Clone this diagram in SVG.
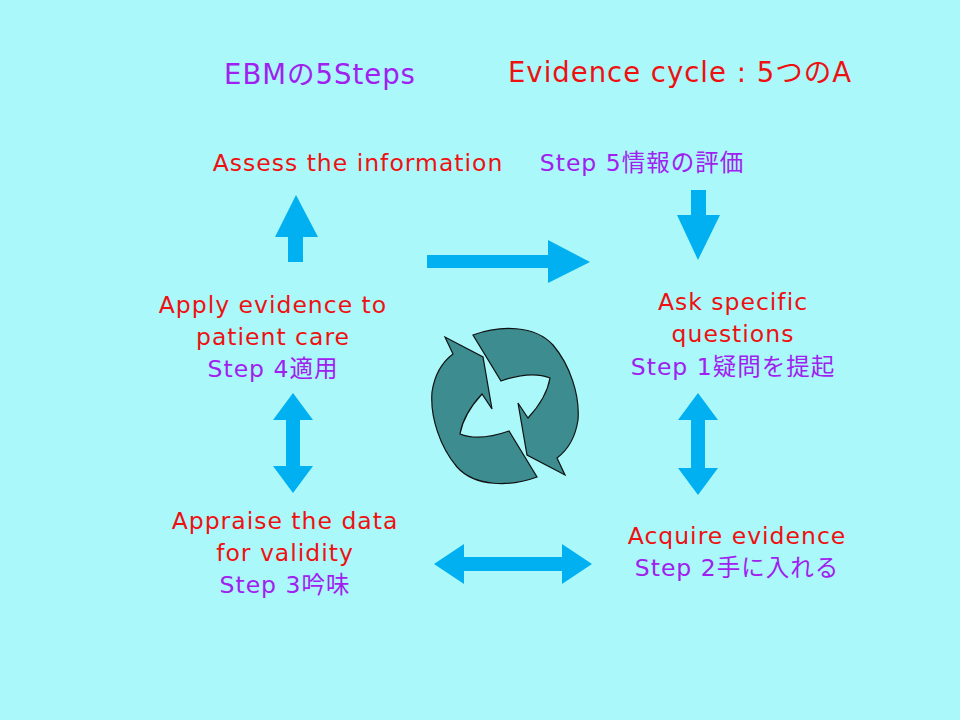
<svg xmlns="http://www.w3.org/2000/svg" xmlns:xlink="http://www.w3.org/1999/xlink" width="960" height="720" viewBox="0 0 960 720">
<style>
text{font-family:"DejaVu Sans","Noto Sans CJK JP",sans-serif;font-size:23.5px;letter-spacing:1px;text-anchor:middle}
.r{fill:#EE1111}.p{fill:#A020F0}
.a{fill:#00B0F0}
.c{fill:#3C8C90;stroke:#111;stroke-width:1.2}
</style>
<defs>
<path id="pc" class="c" d="M473,335 C500,325 535,325 553,345 C570,365 580,395 578,420 C575,440 565,452 557,458 L565,475 L527,455 L518,403 L528,418 C540,405 548,390 550,378 C535,372 518,375 501,381 Z"/>
</defs>
<rect width="960" height="720" fill="#AAF8FA"/>
<g id="titles">
<text x="320" y="84" class="p" style="font-size:27.5px">EBMの5Steps</text>
<text x="680" y="82" class="r" style="font-size:27.5px">Evidence cycle : 5つのA</text>
</g>
<g id="assess"><text x="358" y="171" class="r">Assess the information</text></g>
<g id="step5"><text x="642" y="171" class="p">Step 5情報の評価</text></g>
<g id="ask"><text x="733" y="310" class="r">Ask specific</text><text x="733" y="342" class="r">questions</text><text x="733" y="375" class="p">Step 1疑問を提起</text></g>
<g id="apply"><text x="273" y="313" class="r">Apply evidence to</text><text x="273" y="345" class="r">patient care</text><text x="273" y="377" class="p">Step 4適用</text></g>
<g id="appraise"><text x="285" y="529" class="r">Appraise the data</text><text x="285" y="561" class="r">for validity</text><text x="285" y="593" class="p">Step 3吟味</text></g>
<g id="acquire"><text x="737" y="544" class="r">Acquire evidence</text><text x="737" y="576" class="p">Step 2手に入れる</text></g>
<g id="cycle"><use xlink:href="#pc"/><use xlink:href="#pc" transform="rotate(180 505 406)"/></g>
<g id="connectors">
<polygon class="a" points="288,262 303,262 303,237 318,237 296,195 275,237 288,237"/>
<polygon class="a" points="427,255 548,255 548,240 590,262 548,283 548,268 427,268"/>
<polygon class="a" points="691,190 706,190 706,215 720,215 698,260 677,215 691,215"/>
<polygon class="a" points="293,393 313,420 300,420 300,466 313,466 293,493 273,466 286,466 286,420 273,420"/>
<polygon class="a" points="698,393 718,420 705,420 705,468 718,468 698,495 678,468 691,468 691,420 678,420"/>
<polygon class="a" points="434,564 464,544 464,557 562,557 562,544 592,564 562,584 562,571 464,571 464,584"/>
</g>
</svg>
